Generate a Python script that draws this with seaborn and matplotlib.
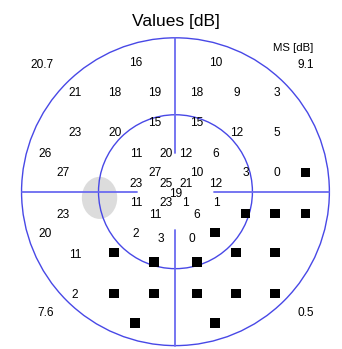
import numpy as np
import pandas as pd
import matplotlib
matplotlib.use("Agg")
import matplotlib.pyplot as plt
from matplotlib.patches import Circle, Ellipse
import seaborn as sns

sns.set_style("white")
plt.rcParams['font.family'] = ['Liberation Sans', 'DejaVu Sans']

# Test locations (degrees) with sensitivity values [dB]
pt_x = [-7.7, 7.9,
        -19.6, -11.8, -4.0, 4.2, 12.0, 19.8,
        -4.0, 4.2,
        -19.6, -11.8, 12.0, 19.8,
        -25.4, -7.7, -1.9, 2.0, 7.9,
        -21.9, -4.0, 4.2, 13.7, 19.8,
        -7.7, -1.9, 2.0, 7.9,
        0.1,
        -7.7, -1.9, 2.0, 7.9,
        -21.9, -4.0, 4.2,
        -25.4, -7.7,
        -2.8, 3.2,
        -19.6,
        -19.6]
pt_y = [25.1, 25.1,
        19.2, 19.2, 19.2, 19.2, 19.2, 19.2,
        13.4, 13.4,
        11.5, 11.5, 11.5, 11.5,
        7.4, 7.4, 7.4, 7.4, 7.4,
        3.7, 3.7, 3.7, 3.7, 3.7,
        1.5, 1.5, 1.5, 1.5,
        -0.4,
        -2.2, -2.2, -2.2, -2.2,
        -4.5, -4.5, -4.5,
        -8.2, -8.2,
        -9.2, -9.2,
        -12.4,
        -20.1]
pt_val = ["16", "10",
          "21", "18", "19", "18", "9", "3",
          "15", "15",
          "23", "20", "12", "5",
          "26", "11", "20", "12", "6",
          "27", "27", "10", "3", "0",
          "23", "25", "21", "12",
          "19",
          "11", "23", "1", "1",
          "23", "11", "6",
          "20", "2",
          "3", "0",
          "11",
          "2"]

# Locations with no response (black squares)
sq_x = [25.4, 13.7, 19.4, 25.4, 7.7,
        -12.0, -4.2, 4.2, 11.8, 19.4,
        -12.0, -4.2, 4.2, 11.8, 19.4,
        -7.9, 7.7]
sq_y = [3.7, -4.2, -4.2, -4.2, -7.9,
        -11.9, -13.7, -13.7, -11.9, -11.9,
        -19.8, -19.8, -19.8, -19.8, -19.8,
        -25.6, -25.6]

# Quadrant mean sensitivity
ms_vals = ["20.7", "9.1", "7.6", "0.5"]

fig = plt.figure(figsize=(3.42, 3.49), dpi=100)
ax = fig.add_axes([0, 0, 1, 1])
ax.set_xlim(-34.2, 32.46)
ax.set_ylim(-30.66, 37.37)
ax.axis('off')

# blind spot
ax.add_patch(Ellipse((-14.8, -1.2), 6.9, 8.2, facecolor='#dcdcdc', edgecolor='none', zorder=1))

# circles
for r in (30, 15):
    ax.add_patch(Circle((0, 0), r, fill=False, edgecolor='#4848e6', lw=1.0, zorder=2))

# axis lines
lc = '#6a6af0'
ax.plot([0, 0], [7.5, 30], color=lc, lw=1.3, zorder=2)
ax.plot([0, 0], [-30, -7.4], color=lc, lw=1.3, zorder=2)
ax.plot([-30, -7.5], [0, 0], color=lc, lw=1.3, zorder=2)
ax.plot([7.5, 30], [0, 0], color=lc, lw=1.3, zorder=2)

sq_df = pd.DataFrame({'x': sq_x, 'y': sq_y})
sns.scatterplot(data=sq_df, x='x', y='y', marker='s', s=44, color='black',
                edgecolor='none', linewidth=0, ax=ax, zorder=3, legend=False)
ax.set_xlim(-34.2, 32.46)
ax.set_ylim(-30.66, 37.37)
ax.axis('off')

for x, y, v in zip(pt_x, pt_y, pt_val):
    ax.text(x, y, v, ha='center', va='center', fontsize=8.6, color='black', zorder=4)

ms_pos = [(-26.0, 24.7), (25.4, 24.7), (-25.4, -23.7), (25.4, -23.7)]
for (x, y), v in zip(ms_pos, ms_vals):
    ax.text(x, y, v, ha='center', va='center', fontsize=8.6, color='black')
ax.text(22.9, 28.0, "MS [dB]", ha='center', va='center', fontsize=8.2, color='black')
ax.text(0, 33.1, "Values [dB]", ha='center', va='center', fontsize=12.5, color='black')

fig.savefig("out.png", dpi=100)
